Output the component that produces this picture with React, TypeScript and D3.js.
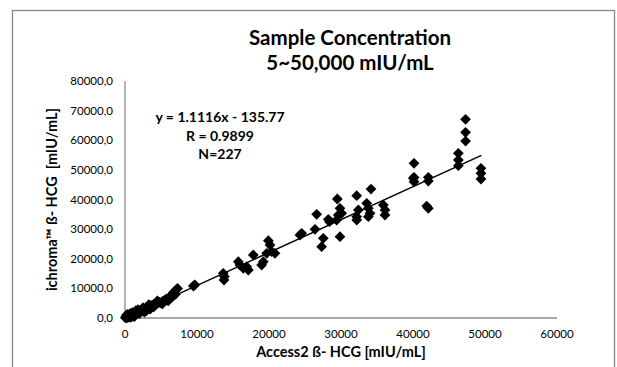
import React from "react";
import * as d3 from "d3";

const width = 617;
const height = 367;

// Access2 (x) vs ichroma (y), mIU/mL
const pointsX = [
  50, 100, 200, 300, 150, 400, 500, 600, 700, 800, 900, 1000, 250, 350, 450, 550, 650, 750, 850, 950,
  1100, 1200, 1300, 1400, 1500, 1600, 1700, 1800, 1900, 2000, 2100, 2200, 2400, 2500, 2600, 2800,
  3000, 3200, 3400, 3600, 3800, 4000, 4200, 4500, 4800, 5000, 5200, 5500,
  300, 800, 1200, 1500, 2000, 2500, 3000, 3500, 4000, 4500, 5200, 5800, 6000, 3300, 2700, 1800, 1000, 700, 200, 1300,
  6500, 6700, 6900, 7100, 7300, 6600, 7000, 9500, 9700,
  13650, 13750, 13800, 15740, 15970, 16900, 17130, 16430, 17820, 19680, 20370, 20830, 19210, 18980,
  19910, 20140, 24300, 24540,
  26390, 26620, 27310, 27540, 28240, 28400, 29400, 29630, 29490, 29860, 29860, 30090,
  32180, 32180, 32180, 32410, 33570, 33800, 33800, 34030, 34170, 35880, 36110, 36110,
  40050, 40140, 40140, 40140, 42130, 42130, 42130, 41900,
  46300, 46300, 46300, 47300, 47300, 47300, 49440, 49440, 49440
];
const pointsY = [
  60, 150, 250, 300, 400, 500, 450, 700, 650, 900, 800, 1100, 800, 100, 900, 300, 1200, 400, 1300, 600,
  1000, 1500, 1300, 1700, 1500, 2000, 1800, 2200, 1900, 2400, 2100, 2600, 2800, 2500, 3000, 3200,
  3300, 3600, 3800, 4300, 4000, 4600, 4400, 5000, 5300, 5000, 5600, 6000,
  1200, 200, 600, 2500, 1500, 3500, 2500, 3000, 3800, 5800, 4800, 6500, 5800, 4500, 2000, 2800, 1800, 1500, 900, 500,
  7800, 8500, 9000, 9500, 10000, 7200, 8000, 10800, 11200,
  15090, 12830, 14000, 19000, 17890, 17320, 16200, 16780, 21270, 21840, 22380, 21840, 19000, 17890,
  26090, 24640, 28020, 28590,
  29940, 35000, 24070, 26900, 33310, 32500, 33080, 34770, 40170, 37030, 27440, 35340,
  41290, 34200, 33080, 36460, 38720, 37030, 34200, 35340, 43540, 38140, 36460, 34770,
  47150, 52200, 47490, 46010, 47490, 46240, 37030, 37800,
  55590, 53330, 51420, 67060, 62680, 59730, 50530, 48840, 46920
];

const slope = 1.1116;
const intercept = -135.77;
const fitRange = [0, 49500];

const xTicks = [0, 10000, 20000, 30000, 40000, 50000, 60000];
const yTicks = [0, 10000, 20000, 30000, 40000, 50000, 60000, 70000, 80000];

const titleLines = ["Sample Concentration", "5~50,000 mIU/mL"];
const statLines = ["y = 1.1116x - 135.77", "R = 0.9899", "N=227"];

const font = "Lato, 'Open Sans', sans-serif";

export default function App() {
  const xScale = d3.scaleLinear().domain([0, 60000]).range([125, 557]);
  const yScale = d3.scaleLinear().domain([0, 80000]).range([318, 81]);

  const diamond = d3.symbol().type(d3.symbolSquare).size(58)();
  const points = pointsX.map((x, i) => ({ x, y: pointsY[i] }));

  const fitLine = d3
    .line<number>()
    .x(d => xScale(d))
    .y(d => yScale(slope * d + intercept));

  return (
    <svg width={width} height={height} style={{ position: "absolute", left: 0, top: 0, background: "#fff" }}>
      <rect x={12.5} y={10.5} width={602} height={400} fill="#fff" stroke="#878787" strokeWidth={1.3} />

      {/* title */}
      {titleLines.map((t, i) => (
        <text key={t} x={350} y={45 + i * 25} textAnchor="middle" fontFamily={font} fontWeight="bold" fontSize={20.5} fill="#000">
          {t}
        </text>
      ))}

      {/* axes */}
      <line x1={xScale(0)} x2={xScale(60000)} y1={yScale(0)} y2={yScale(0)} stroke="#8c8c8c" strokeWidth={1.3} />
      <line x1={xScale(0)} x2={xScale(0)} y1={yScale(0)} y2={yScale(80000)} stroke="#8c8c8c" strokeWidth={1.3} />

      {xTicks.map(t => (
        <text key={t} x={xScale(t)} y={338} textAnchor="middle" fontFamily={font} fontSize={11.5} fill="#000">
          {t}
        </text>
      ))}
      {yTicks.map(t => (
        <text key={t} x={113} y={yScale(t) + 4} textAnchor="end" fontFamily={font} fontSize={11.5} fill="#000">
          {t + ",0"}
        </text>
      ))}

      <text x={341} y={357} textAnchor="middle" fontFamily={font} fontWeight="bold" fontSize={14.5} fill="#000">
        Access2 ß- HCG [mIU/mL]
      </text>
      <text
        transform={`translate(57,${yScale(40000)}) rotate(-90)`}
        textAnchor="middle"
        fontFamily={font}
        fontWeight="bold"
        fontSize={14.5}
        fill="#000"
      >
        {"ichroma™ ß- HCG \u00a0[mIU/mL]"}
      </text>

      {/* points */}
      <g>
        {points.map((d, i) => (
          <path key={i} d={diamond} transform={`translate(${xScale(d.x)},${yScale(d.y)}) rotate(45)`} fill="#000" />
        ))}
      </g>

      <path d={fitLine(fitRange) || ""} fill="none" stroke="#000" strokeWidth={1.5} />

      {statLines.map((t, i) => (
        <text key={t} x={220} y={122 + i * 18.5} textAnchor="middle" fontFamily={font} fontWeight="bold" fontSize={14} fill="#000">
          {t}
        </text>
      ))}
    </svg>
  );
}
